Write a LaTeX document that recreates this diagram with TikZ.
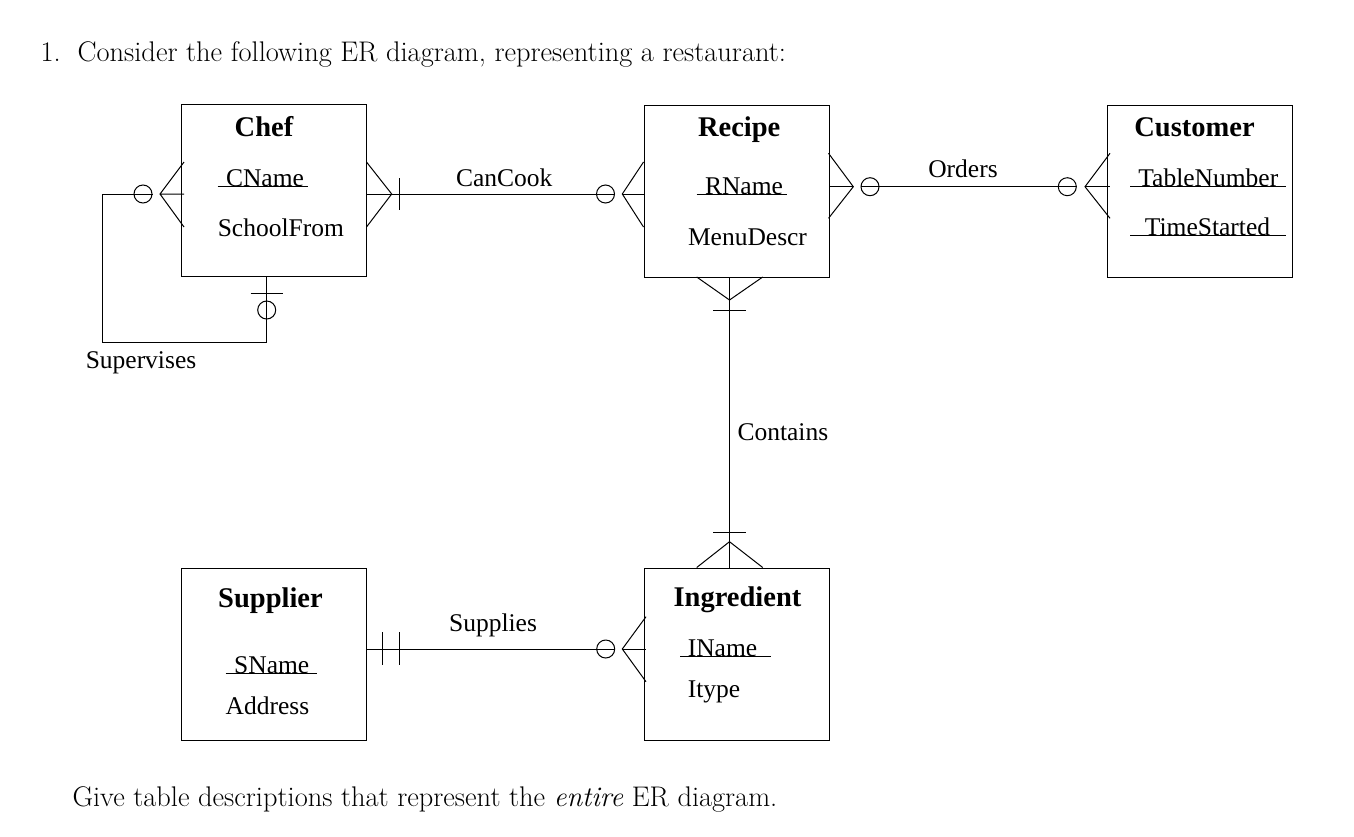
\documentclass[tikz,border=0pt]{standalone}
\usepackage{fontspec}
\newfontfamily\tnr{Liberation Serif}
\usetikzlibrary{calc}
\begin{document}
\begin{tikzpicture}[x=1pt,y=-1pt,line width=1pt,
  ent/.style={draw, minimum width=185pt, minimum height=172pt, inner sep=0pt, anchor=north west},
  etitle/.style={font=\tnr\fontsize{28.5}{30}\selectfont\bfseries, anchor=base, inner sep=0pt},
  attr/.style={font=\tnr\fontsize{25.5}{28}\selectfont, anchor=base, inner sep=0pt},
  ring/.style={draw, circle, minimum size=18pt, inner sep=0pt},
  doc/.style={font=\fontsize{28.4}{33}\selectfont, anchor=base west, inner sep=0pt},
  uline/.style={line width=0.9pt}]
\useasboundingbox (0,0) rectangle (1354,836);

% question text
\node[doc] (q) at (40,61.7) {1.\hspace{0.6em}Consider the following ER diagram, representing a restaurant:};
\node[doc] (g) at (72,806.7) {Give table descriptions that represent the \emph{entire} ER diagram.};

% entities
\node[ent] (chef) at (181,104) {};
\node[ent] (recipe) at (643.5,105) {};
\node[ent] (customer) at (1106.5,105) {};
\node[ent] (supplier) at (181,567.5) {};
\node[ent] (ingredient) at (643.5,567.5) {};

% entity texts
\node[etitle] (tchef) at (264,136.7) {Chef};
\node[attr] (acname) at (265,186) {CName};
\node[attr] (aschool) at (280.8,236.7) {SchoolFrom};
\draw[uline] (217.7,186) -- (308.3,186);

\node[etitle] (trecipe) at (739.2,136.7) {Recipe};
\node[attr] (arname) at (744,194) {RName};
\node[attr] (amenu) at (747.5,245) {MenuDescr};
\draw[uline] (696.7,194) -- (787.3,194);

\node[etitle] (tcust) at (1194.5,136.7) {Customer};
\node[attr] (atable) at (1208.3,186) {TableNumber};
\node[attr] (atime) at (1207.5,235) {TimeStarted};
\draw[uline] (1130,186) -- (1286,186);
\draw[uline] (1130,235) -- (1286,235);

\node[etitle] (tsupp) at (270.5,607.3) {Supplier};
\node[attr] (asname) at (271.7,673.3) {SName};
\node[attr] (aaddr) at (267.5,714) {Address};
\draw[uline] (225.7,673.3) -- (316.7,673.3);

\node[etitle] (ting) at (737.5,606.7) {Ingredient};
\node[attr] (ainame) at (722.5,656.7) {IName};
\node[attr] (aitype) at (714,697.3) {Itype};
\draw[uline] (680,656.7) -- (770.7,656.7);

% optionality rings
\node[ring] (o1) at (143,194) {};
\node[ring] (o2) at (266.7,310) {};
\node[ring] (o3) at (605.5,194) {};
\node[ring] (o4) at (870,186.7) {};
\node[ring] (o5) at (1067.3,186.7) {};
\node[ring] (o6) at (605.7,649) {};

% Supervises (recursive on Chef)
\coordinate (sv) at (102,342);
\draw (o1.east) -- (o1 -| sv) -- (sv) -- (sv -| o2) -- (o2 |- chef.south);
\draw (184,162) -- (160,194) -- (184,227) (160,194) -- (184,194);
\draw (250.7,293) -- (283,293);
\node[attr] (lsv) at (141,368) {Supervises};

% CanCook
\draw (chef.east |- o3) -- (o3.east);
\draw (366.5,162) -- (391.7,194) -- (366.5,227);
\draw (399,178) -- (399,210);
\draw (recipe.west |- o3) -- (622.3,194);
\draw (643.5,162) -- (622.3,194) -- (643.5,227);
\node[attr] (lcc) at (504.3,186) {CanCook};

% Orders
\draw (recipe.east |- o4) -- (853.3,186.7);
\draw (828.5,153.3) -- (853.3,186.7) -- (828.5,218.3);
\draw (o4.west) -- (o5.east);
\draw (1085,186.7) -- (1110,186.7);
\draw (1110,153.3) -- (1085,186.7) -- (1110,218.3);
\node[attr] (lor) at (963,177.7) {Orders};

% Contains
\coordinate (ct) at (729.5,0);
\draw (ct |- recipe.south) -- (ct |- ingredient.north);
\draw (696.7,277) -- (729.5,300) -- (762.7,277);
\draw (713,310) -- (746,310);
\draw (713.3,532.7) -- (746,532.7);
\draw (696.7,567.5) -- (729.5,541.7) -- (762.7,567.5);
\node[attr, anchor=base west] (lco) at (737,440) {Contains};

% Supplies
\draw (supplier.east |- o6) -- (o6.east);
\draw (382.7,632) -- (382.7,665) (399,632) -- (399,665);
\draw (622.3,649) -- (646,649);
\draw (646,616.7) -- (622.3,649) -- (646,681.7);
\node[attr] (lsu) at (493,631.7) {Supplies};
\end{tikzpicture}
\end{document}
